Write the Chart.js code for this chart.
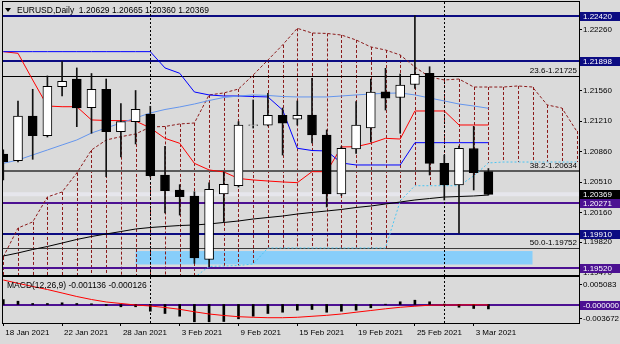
<!DOCTYPE html>
<html>
<head>
<meta charset="utf-8">
<script src="https://cdn.jsdelivr.net/npm/chart.js@4.4.1/dist/chart.umd.min.js"></script>
<style>
    html, body { margin: 0; padding: 0; background: #dadada; }
    #wrap { position: relative; width: 620px; height: 344px; overflow: hidden; background: #dadada; }
    canvas { position: absolute; left: 0; }
    #priceChart { top: 0; }
    #macdChart { top: 276px; }
</style>
</head>
<body>
<div id="wrap">
    <canvas id="priceChart" width="620" height="276"></canvas>
    <canvas id="macdChart" width="620" height="68"></canvas>
</div>
<script>
// EURUSD daily bars, 18 Jan 2021 .. 4 Mar 2021
const symbol = 'EURUSD';
const period = 'Daily';
const dateLabels = ['18 Jan 2021', '22 Jan 2021', '28 Jan 2021', '3 Feb 2021', '9 Feb 2021', '15 Feb 2021', '19 Feb 2021', '25 Feb 2021', '3 Mar 2021'];
const dateTickBars = [0, 4, 8, 12, 16, 20, 24, 28, 32];
const monthStartBars = [10, 30]; // 1 Feb, 1 Mar

const openP = [1.20832, 1.20755, 1.21268, 1.21042, 1.21605, 1.21693, 1.21364, 1.21575, 1.21088, 1.21203,
    1.21291, 1.20591, 1.20419, 1.20350, 1.19623, 1.20373, 1.20468, 1.21160, 1.21162, 1.21276,
    1.21231, 1.21280, 1.21050, 1.20373, 1.20890, 1.21131, 1.21547, 1.21481, 1.21630, 1.21759,
    1.20725, 1.20476, 1.20895, 1.20629];
const highP = [1.20880, 1.21441, 1.21575, 1.21728, 1.21892, 1.21820, 1.21756, 1.21693, 1.21412, 1.21561,
    1.21380, 1.20920, 1.20480, 1.20399, 1.20500, 1.20626, 1.21203, 1.21452, 1.21529, 1.21360,
    1.21441, 1.21701, 1.21108, 1.20918, 1.21433, 1.21693, 1.21816, 1.21751, 1.22420, 1.21834,
    1.20820, 1.20924, 1.21150, 1.20665];
const lowP = [1.20534, 1.20740, 1.20771, 1.21027, 1.21498, 1.21146, 1.21070, 1.20572, 1.20798, 1.20947,
    1.20568, 1.20155, 1.20131, 1.19577, 1.19538, 1.20051, 1.20453, 1.21130, 1.21154, 1.20820,
    1.21165, 1.20958, 1.20224, 1.20356, 1.20840, 1.20970, 1.21337, 1.21070, 1.21586, 1.20591,
    1.20304, 1.19922, 1.20419, 1.20360];
const closeP = [1.20744, 1.21268, 1.21042, 1.21609, 1.21667, 1.21360, 1.21575, 1.21088, 1.21203, 1.21345,
    1.20583, 1.20411, 1.20342, 1.19638, 1.20427, 1.20484, 1.21165, 1.21168, 1.21276, 1.21185,
    1.21276, 1.21050, 1.20373, 1.20898, 1.21165, 1.21544, 1.21472, 1.21624, 1.21747, 1.20725,
    1.20476, 1.20898, 1.20617, 1.20369];

// Ichimoku lines
const tenkan = [1.22007, 1.21988, 1.21682, 1.21383, 1.21375, 1.21375, 1.21223, 1.21217, 1.21215, 1.21211,
    1.21131, 1.21012, 1.20955, 1.20725, 1.20649, 1.20626, 1.20551, 1.20534, 1.20522, 1.20511,
    1.20503, 1.20629, 1.20629, 1.20913, 1.20916, 1.20955, 1.21012, 1.21004, 1.21326, 1.21326,
    1.21326, 1.21165, 1.21165, 1.21165];
const kijun = [1.22007, 1.22007, 1.22007, 1.22007, 1.22007, 1.22007, 1.22007, 1.22007, 1.22007, 1.22007,
    1.22007, 1.21820, 1.21759, 1.21544, 1.21510, 1.21498, 1.21498, 1.21492, 1.21487, 1.21337,
    1.20898, 1.20872, 1.20867, 1.20729, 1.20706, 1.20706, 1.20706, 1.20706, 1.20962, 1.20962,
    1.20962, 1.20962, 1.20962, 1.20962];
// cloud edges run 6 bars past the last candle
const spanB = [1.19650, 1.19983, 1.20052, 1.20339, 1.20396, 1.20614, 1.20878, 1.20993, 1.21031, 1.21062,
    1.21142, 1.21148, 1.21177, 1.21188, 1.21510, 1.21533, 1.21578, 1.21739, 1.21911, 1.22084,
    1.22275, 1.22221, 1.22216, 1.22198, 1.22141, 1.22061, 1.22026, 1.21969, 1.21831, 1.21716,
    1.21682, 1.21693, 1.21601, 1.21601, 1.21601, 1.21613, 1.21601, 1.21395, 1.21360, 1.21096];
const spanA = [1.19350, 1.19350, 1.19350, 1.19350, 1.19350, 1.19350, 1.19350, 1.19350, 1.19350, 1.19350,
    1.19350, 1.19350, 1.19350, 1.19415, 1.19541, 1.19547, 1.19552, 1.19569, 1.19753, 1.19753,
    1.19753, 1.19753, 1.19753, 1.19753, 1.19753, 1.19753, 1.19753, 1.20293, 1.20468, 1.20468,
    1.20468, 1.20468, 1.20580, 1.20729, 1.20740, 1.20740, 1.20740, 1.20740, 1.20740, 1.20740];

// moving averages
const maFast = [1.20725, 1.20763, 1.20821, 1.20878, 1.20936, 1.20993, 1.21073, 1.21131, 1.21188, 1.21246,
    1.21303, 1.21343, 1.21372, 1.21406, 1.21446, 1.21481, 1.21498, 1.21510, 1.21504, 1.21492,
    1.21487, 1.21487, 1.21487, 1.21498, 1.21510, 1.21521, 1.21529, 1.21533, 1.21510, 1.21475,
    1.21441, 1.21406, 1.21383, 1.21357];
const maSlow = [1.19661, 1.19696, 1.19736, 1.19770, 1.19810, 1.19851, 1.19885, 1.19914, 1.19942, 1.19971,
    1.19988, 1.20000, 1.20011, 1.20017, 1.20029, 1.20046, 1.20063, 1.20086, 1.20103, 1.20120,
    1.20143, 1.20161, 1.20178, 1.20195, 1.20218, 1.20235, 1.20258, 1.20281, 1.20304, 1.20321,
    1.20338, 1.20344, 1.20350, 1.20361];

// MACD(12,26,9)
const macdHist = [0.00129, 0.00085, 0.00026, 0.00026, 0.00044, 0.00026, 0.00018, -0.00026, -0.00059, -0.00059,
    -0.00173, -0.00232, -0.00302, -0.00446, -0.00446, -0.00439, -0.00369, -0.00302, -0.00232, -0.00199,
    -0.00147, -0.00129, -0.00199, -0.00173, -0.00147, -0.00085, 0.00008, 0.00070, 0.00111, 0.00070,
    0.00010, -0.00070, -0.00103, -0.001136];
const macdSignal = [0.00632, 0.00547, 0.00464, 0.00387, 0.00297, 0.00206, 0.00129, 0.00065, 0.00026, -0.00013,
    -0.00039, -0.00077, -0.00124, -0.00188, -0.00245, -0.00284, -0.00315, -0.00330, -0.00341, -0.00341,
    -0.00330, -0.00304, -0.00279, -0.00245, -0.00199, -0.00155, -0.00111, -0.00072, -0.00044, -0.00018,
    -0.00013, -0.00013, -0.00008, -0.000126];

// axis ticks and drawn levels
const priceTicks = [1.22260, 1.21560, 1.21210, 1.20860, 1.20510, 1.20160, 1.19820, 1.19470];
const macdTicks = [0.005083, -0.003672];
const levelPrices = [1.22420, 1.21898, 1.20271, 1.19910, 1.19520];
const fibNames = ['23.6', '38.2', '50.0'];
const fibPrices = [1.21725, 1.20634, 1.19752];
const zoneBars = [9, 36];
const zonePrices = [1.19564, 1.19718];

const NAVY = '#0c0c82';
const PURPLE = '#4c1192';
const levelColors = [NAVY, NAVY, PURPLE, NAVY, PURPLE];
const fibColors = ['#000000', '#5a5a5a', '#3a3a3a'];
const fibWidths = [1, 2, 1];

const X_MIN = -0.02, X_MAX = 39.163;

Chart.defaults.font.family = '"Liberation Sans", Arial, sans-serif';
Chart.defaults.font.size = 8;
Chart.defaults.color = '#000';

function toPoints(values) {
    return values.map((v, i) => ({ x: i, y: v }));
}

function lineSet(values, color, width, dash, order) {
    return {
        type: 'line', data: toPoints(values), borderColor: color, borderWidth: width,
        borderDash: dash || [], pointRadius: 0, tension: 0, order: order, clip: 0
    };
}

function clipArea(ctx, a) {
    ctx.beginPath();
    ctx.rect(a.left, a.top, a.right - a.left, a.bottom - a.top);
    ctx.clip();
}

function drawSeparators(chart) {
    const { ctx, chartArea: a, scales: { x } } = chart;
    ctx.save();
    ctx.strokeStyle = '#000';
    ctx.lineWidth = 1;
    ctx.setLineDash([2, 2]);
    monthStartBars.forEach(b => {
        const px = Math.round(x.getPixelForValue(b)) + 0.5;
        ctx.beginPath();
        ctx.moveTo(px, a.top);
        ctx.lineTo(px, a.bottom);
        ctx.stroke();
    });
    ctx.restore();
}

function drawTag(chart, yPix, text, bg) {
    const { ctx, chartArea: a } = chart;
    ctx.save();
    ctx.fillStyle = bg;
    ctx.fillRect(a.right + 1, Math.round(yPix) - 4, 40, 9);
    ctx.fillStyle = '#fff';
    ctx.font = '8px "Liberation Sans"';
    ctx.textAlign = 'left';
    ctx.textBaseline = 'middle';
    ctx.fillText(text, a.right + 4, Math.round(yPix) + 0.5);
    ctx.restore();
}

function drawFrame(chart) {
    const { ctx, chartArea: a } = chart;
    ctx.save();
    ctx.strokeStyle = '#000';
    ctx.lineWidth = 1;
    ctx.strokeRect(a.left - 0.5, a.top - 0.5, a.right - a.left + 1, a.bottom - a.top + 1);
    ctx.restore();
}

// background objects of the price panel: zone, cloud hatching, levels
const priceDecor = {
    id: 'priceDecor',
    beforeDatasetsDraw(chart) {
        const { ctx, chartArea: a, scales: { x, y } } = chart;
        ctx.save();
        clipArea(ctx, a);

        const zx0 = x.getPixelForValue(zoneBars[0]);
        const zx1 = x.getPixelForValue(zoneBars[1]);
        const zy0 = y.getPixelForValue(zonePrices[1]);
        const zy1 = y.getPixelForValue(zonePrices[0]);
        ctx.fillStyle = '#87cefa';
        ctx.fillRect(zx0, zy0, zx1 - zx0, zy1 - zy0);

        // bid line
        const last = closeP.length - 1;
        const by = y.getPixelForValue(closeP[last]);
        ctx.strokeStyle = '#e6e6ec';
        ctx.lineWidth = 4;
        ctx.beginPath(); ctx.moveTo(a.left, by); ctx.lineTo(a.right, by); ctx.stroke();

        // cloud hatching
        ctx.strokeStyle = '#8b1a1a';
        ctx.lineWidth = 1;
        ctx.setLineDash([3, 2]);
        spanB.forEach((v, i) => {
            const px = Math.round(x.getPixelForValue(i)) + 0.5;
            ctx.beginPath();
            ctx.moveTo(px, y.getPixelForValue(v));
            ctx.lineTo(px, y.getPixelForValue(spanA[i]));
            ctx.stroke();
        });
        ctx.setLineDash([]);

        fibPrices.forEach((p, i) => {
            const py = Math.round(y.getPixelForValue(p)) + (fibWidths[i] === 1 ? 0.5 : 0);
            ctx.strokeStyle = fibColors[i];
            ctx.lineWidth = fibWidths[i];
            ctx.beginPath(); ctx.moveTo(a.left, py); ctx.lineTo(a.right, py); ctx.stroke();
        });
        levelPrices.forEach((p, i) => {
            const py = Math.round(y.getPixelForValue(p));
            ctx.strokeStyle = levelColors[i];
            ctx.lineWidth = 2;
            ctx.beginPath(); ctx.moveTo(a.left, py); ctx.lineTo(a.right, py); ctx.stroke();
        });
        ctx.restore();
        drawSeparators(chart);
    },
    afterDraw(chart) {
        const { ctx, chartArea: a, scales: { y } } = chart;
        const last = closeP.length - 1;

        // fibo level captions
        ctx.save();
        ctx.font = '8px "Liberation Sans"';
        ctx.fillStyle = '#000';
        ctx.textAlign = 'right';
        ctx.textBaseline = 'bottom';
        fibPrices.forEach((p, i) => {
            ctx.fillText(fibNames[i] + '-' + p.toFixed(5), a.right - 2, Math.round(y.getPixelForValue(p)) - 1);
        });

        // header
        ctx.beginPath();
        ctx.moveTo(5, 8); ctx.lineTo(11, 8); ctx.lineTo(8, 12); ctx.closePath();
        ctx.fill();
        ctx.font = '8.5px "Liberation Sans"';
        ctx.textAlign = 'left';
        ctx.textBaseline = 'middle';
        const ohlc = [openP[last], highP[last], lowP[last], closeP[last]].map(v => v.toFixed(5)).join(' ');
        ctx.fillText(symbol + ',' + period + '  ' + ohlc, 17, 10.5);
        ctx.restore();

        drawFrame(chart);

        // price tags on the axis
        levelPrices.forEach((p, i) => drawTag(chart, y.getPixelForValue(p), p.toFixed(5), levelColors[i]));
        drawTag(chart, y.getPixelForValue(closeP[last]), closeP[last].toFixed(5), '#000');
    }
};

const macdDecor = {
    id: 'macdDecor',
    beforeDatasetsDraw(chart) {
        const { ctx, chartArea: a, scales: { y } } = chart;
        const zy = Math.round(y.getPixelForValue(0));
        ctx.save();
        ctx.strokeStyle = PURPLE;
        ctx.lineWidth = 2;
        ctx.beginPath(); ctx.moveTo(a.left, zy); ctx.lineTo(a.right, zy); ctx.stroke();
        ctx.restore();
        drawSeparators(chart);
    },
    afterDraw(chart) {
        const { ctx, scales: { y } } = chart;
        const last = macdHist.length - 1;
        ctx.save();
        ctx.font = '8.5px "Liberation Sans"';
        ctx.fillStyle = '#000';
        ctx.textAlign = 'left';
        ctx.textBaseline = 'middle';
        ctx.fillText('MACD(12,26,9) ' + macdHist[last].toFixed(6) + ' ' + macdSignal[last].toFixed(6), 7, 9.5);
        ctx.restore();
        drawFrame(chart);
        drawTag(chart, y.getPixelForValue(0), '-0.000000', PURPLE);
    }
};

function noScalePadding(s) {
    s.paddingTop = 0; s.paddingBottom = 0; s.paddingLeft = 0; s.paddingRight = 0;
}

function createPriceChart() {
    const ctx = document.getElementById('priceChart').getContext('2d');
    const bodyData = openP.map((o, i) => ({ x: i, y: [Math.min(o, closeP[i]), Math.max(o, closeP[i])] }));
    const wickData = lowP.map((l, i) => ({ x: i, y: [l, highP[i]] }));
    const bodyColors = openP.map((o, i) => closeP[i] >= o ? '#ffffff' : '#000000');

    new Chart(ctx, {
        type: 'bar',
        data: {
            datasets: [
                { type: 'bar', data: bodyData, backgroundColor: bodyColors, borderColor: '#000', borderWidth: 1,
                    borderSkipped: false, barThickness: 9, grouped: false, order: 0, clip: 0 },
                { type: 'bar', data: wickData, backgroundColor: '#111', borderWidth: 0,
                    barThickness: 1, grouped: false, order: 1, clip: 0 },
                lineSet(maSlow, '#000000', 1, null, 2),
                lineSet(maFast, '#6495ed', 1, null, 3),
                lineSet(kijun, '#0000ff', 1, null, 4),
                lineSet(tenkan, '#ff0000', 1, null, 5),
                lineSet(spanA, '#4cc6f2', 1, [2, 2], 6),
                lineSet(spanB, '#8b1a1a', 1, [3, 2], 7)
            ]
        },
        options: {
            responsive: false,
            animation: false,
            layout: { padding: { left: 3, top: 2, right: 0, bottom: 1 } },
            plugins: { legend: { display: false }, tooltip: { enabled: false } },
            scales: {
                x: { type: 'linear', min: X_MIN, max: X_MAX, offset: false, display: false },
                y: {
                    position: 'right',
                    min: 1.19443,
                    max: 1.22577,
                    afterBuildTicks: s => { s.ticks = priceTicks.map(v => ({ value: v })); },
                    afterFit: s => { s.width = 41; noScalePadding(s); },
                    ticks: { autoSkip: false, padding: 1, callback: v => v.toFixed(5), font: { size: 8 } },
                    grid: { drawOnChartArea: false, tickLength: 3, color: '#000' },
                    border: { display: true, color: '#000' }
                }
            }
        },
        plugins: [priceDecor]
    });
}

function createMacdChart() {
    const ctx = document.getElementById('macdChart').getContext('2d');
    new Chart(ctx, {
        type: 'bar',
        data: {
            datasets: [
                { type: 'bar', data: toPoints(macdHist), backgroundColor: '#000', borderWidth: 0,
                    barThickness: 2, grouped: false, order: 1, clip: 0 },
                lineSet(macdSignal, '#ff0000', 1, null, 0)
            ]
        },
        options: {
            responsive: false,
            animation: false,
            layout: { padding: { left: 3, top: 1, right: 0, bottom: 0 } },
            plugins: { legend: { display: false }, tooltip: { enabled: false } },
            scales: {
                x: {
                    type: 'linear', min: X_MIN, max: X_MAX, offset: false,
                    afterBuildTicks: s => { s.ticks = dateTickBars.map(v => ({ value: v })); },
                    afterFit: s => { s.height = 21; noScalePadding(s); },
                    ticks: {
                        autoSkip: false, maxRotation: 0, align: 'start', labelOffset: 2, padding: 2,
                        callback: v => dateLabels[dateTickBars.indexOf(v)], font: { size: 8 }
                    },
                    grid: { drawOnChartArea: false, tickLength: 3, color: '#000', offset: false },
                    border: { display: false }
                },
                y: {
                    position: 'right',
                    min: -0.004773,
                    max: 0.007095,
                    afterBuildTicks: s => { s.ticks = macdTicks.map(v => ({ value: v })); },
                    afterFit: s => { s.width = 41; noScalePadding(s); },
                    ticks: { autoSkip: false, padding: 1, callback: v => v.toFixed(6), font: { size: 8 } },
                    grid: { drawOnChartArea: false, tickLength: 3, color: '#000' },
                    border: { display: true, color: '#000' }
                }
            }
        },
        plugins: [macdDecor]
    });
}

createPriceChart();
createMacdChart();
</script>
</body>
</html>
